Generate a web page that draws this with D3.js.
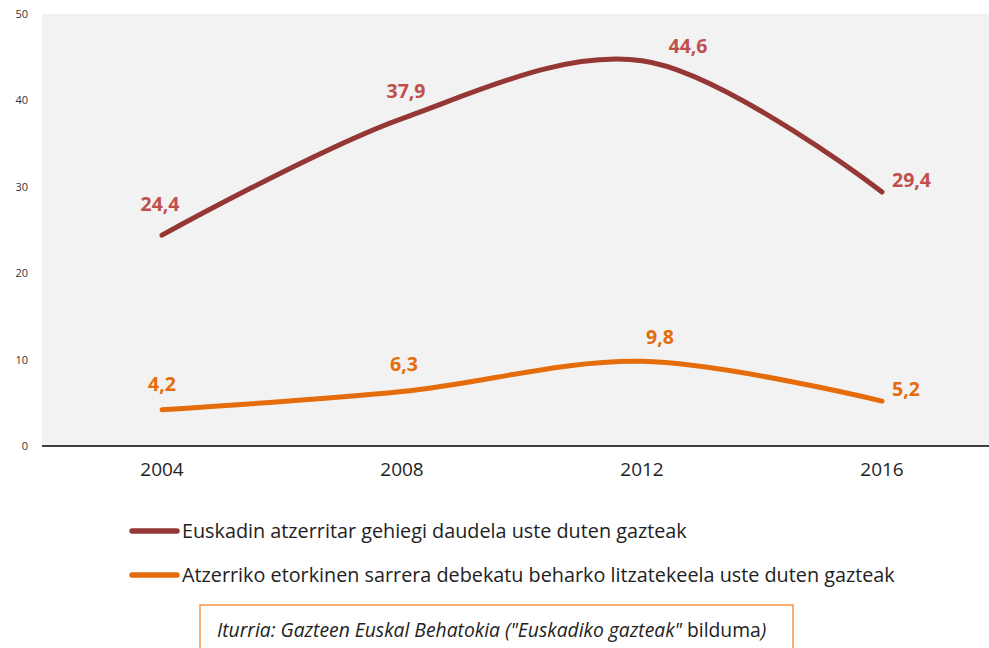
<!DOCTYPE html>
<html><head><meta charset="utf-8">
<script src="https://cdn.jsdelivr.net/npm/d3@7"></script>
<style>
html,body{margin:0;padding:0;background:#fff;}
svg{display:block;}
</style></head>
<body>
<svg id="c" width="989" height="648"></svg>
<script>
const years = ["2004","2008","2012","2016"];
const seriesNames = [
  "Euskadin atzerritar gehiegi daudela uste duten gazteak",
  "Atzerriko etorkinen sarrera debekatu beharko litzatekeela uste duten gazteak"
];
const valuesA = [24.4, 37.9, 44.6, 29.4];
const valuesB = [4.2, 6.3, 9.8, 5.2];
const yTicks = [0, 10, 20, 30, 40, 50];
const sourceParts = ["Iturria: Gazteen Euskal Behatokia (\"Euskadiko gazteak\"", " bilduma", ")"];

const lineColors = ["#953735", "#e46c0a"];
const labelColors = ["#c0504d", "#e46c0a"];
const FONT = "'Open Sans', sans-serif";

const svg = d3.select("#c");
const W = 989, H = 648;
const m = {left: 42, top: 14, plotW: 960, bottom: 446};

const x = d3.scaleBand().domain(years).range([m.left, m.left + m.plotW]);
const cx = d => x(d) + x.bandwidth() / 2;
const y = d3.scaleLinear().domain([0, 50]).range([m.bottom, m.top]);

svg.append("rect").attr("x", m.left).attr("y", m.top)
  .attr("width", W - m.left).attr("height", m.bottom - m.top).attr("fill", "#f2f2f2");

const yAxis = d3.axisLeft(y).tickValues(yTicks).tickSize(0).tickPadding(14).tickFormat(d3.format("d"));
const ya = svg.append("g").attr("transform", `translate(${m.left},0)`).call(yAxis);
ya.select(".domain").remove();
ya.selectAll("text").attr("font-family", FONT).attr("font-size", 11).attr("fill", "#333");

const xAxis = d3.axisBottom(x).tickSize(0).tickPadding(17);
const xa = svg.append("g").attr("transform", `translate(0,${m.bottom})`).call(xAxis);
xa.select(".domain").remove();
xa.append("line").attr("x1", m.left).attr("x2", W).attr("y1", 0).attr("y2", 0)
  .attr("stroke", "#000").attr("stroke-width", 1.3);
xa.selectAll("text").attr("font-family", FONT).attr("font-size", 19).attr("fill", "#222");

const line = d3.line().x((d, i) => cx(years[i])).y(d => y(d)).curve(d3.curveCatmullRom.alpha(0.5));

[valuesA, valuesB].forEach((vals, s) => {
  svg.append("path").attr("d", line(vals)).attr("fill", "none")
    .attr("stroke", lineColors[s]).attr("stroke-width", 5).attr("stroke-linecap", "round");
});

const labelOffsets = [
  [[-2, -24, "middle"], [4, -21, "middle"], [46, -8, "middle"], [10, -5, "start"]],
  [[0, -19, "middle"], [2, -21, "middle"], [18, -17, "middle"], [10, -5, "start"]]
];
[valuesA, valuesB].forEach((vals, s) => {
  svg.append("g").selectAll("text").data(vals).join("text")
    .attr("x", (d, i) => cx(years[i]) + labelOffsets[s][i][0])
    .attr("y", (d, i) => y(d) + labelOffsets[s][i][1])
    .attr("text-anchor", (d, i) => labelOffsets[s][i][2])
    .attr("font-family", FONT).attr("font-weight", "bold").attr("font-size", 19.5)
    .attr("fill", labelColors[s])
    .text(d => d3.format(".1f")(d).replace(".", ","));
});

const lg = svg.append("g");
seriesNames.forEach((name, i) => {
  const yy = 531 + i * 44;
  lg.append("line").attr("x1", 132).attr("x2", 177).attr("y1", yy).attr("y2", yy)
    .attr("stroke", lineColors[i]).attr("stroke-width", 5.5).attr("stroke-linecap", "round");
  lg.append("text").attr("x", 182).attr("y", yy + 7).attr("font-family", FONT)
    .attr("font-size", 19.8).attr("fill", "#222").text(name);
});

svg.append("rect").attr("x", 200).attr("y", 605).attr("width", 593).attr("height", 60)
  .attr("fill", "#fff").attr("stroke", "#f79646").attr("stroke-width", 1.5);
const st = svg.append("text").attr("x", 217).attr("y", 637).attr("font-family", FONT)
  .attr("font-size", 19.3).attr("fill", "#222");
st.append("tspan").attr("font-style", "italic").text(sourceParts[0]);
st.append("tspan").text(sourceParts[1]);
st.append("tspan").attr("font-style", "italic").text(sourceParts[2]);
</script>
</body></html>
